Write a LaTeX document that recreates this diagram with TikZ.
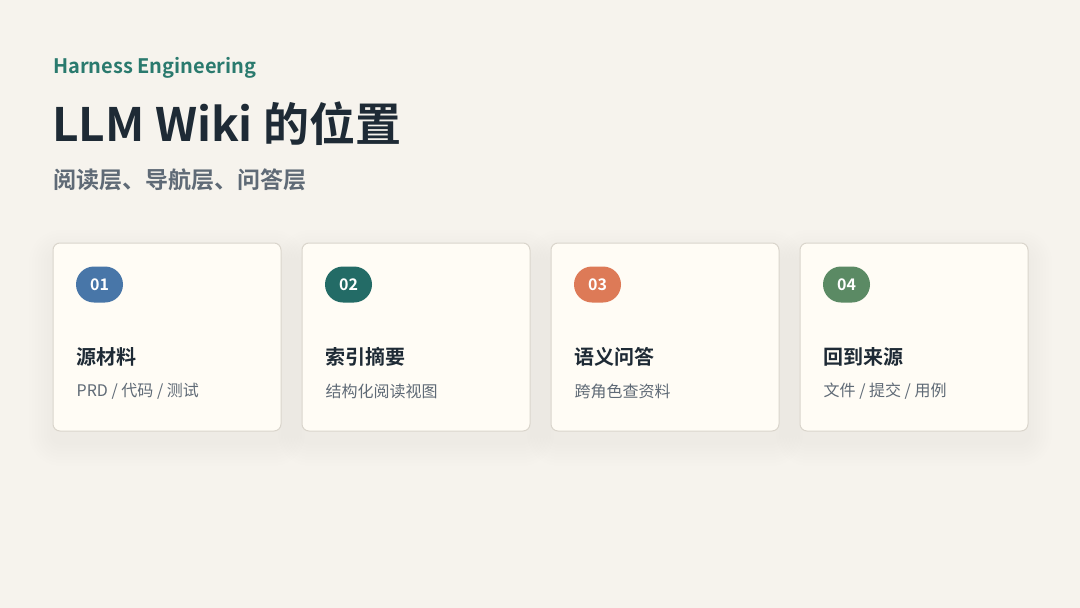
\documentclass[tikz,border=0pt]{standalone}
\usepackage{fontspec}
\usepackage{xcolor}
\setmainfont{Noto Sans CJK SC}[BoldFont={Noto Sans CJK SC Bold}]
\definecolor{BG}{HTML}{F6F3ED}
\definecolor{CardFill}{HTML}{FFFCF5}
\definecolor{CardLine}{HTML}{DAD5CC}
\definecolor{Ink}{HTML}{1E2A35}
\definecolor{Muted}{HTML}{5F6A76}
\definecolor{Teal}{HTML}{2A7A6E}
\definecolor{B1}{HTML}{4876A8}
\definecolor{B2}{HTML}{236B66}
\definecolor{B3}{HTML}{DD7A57}
\definecolor{B4}{HTML}{5B8A64}

\begin{document}
\begin{tikzpicture}[x=1pt, y=-1pt,
  card/.style={draw=CardLine, line width=1pt, fill=CardFill, rounded corners=7pt,
    minimum width=228pt, minimum height=188pt, inner sep=0pt},
  badge/.style={rounded corners=18pt, minimum width=47pt, minimum height=36pt, inner sep=0pt,
    text=white, font=\fontsize{16}{16}\selectfont\bfseries},
  cardtitle/.style={anchor=west, inner sep=0pt, text=Ink, font=\fontsize{20}{22}\selectfont\bfseries},
  cardsub/.style={anchor=west, inner sep=0pt, text=Muted, font=\fontsize{16}{18}\selectfont}]%
\fill[BG] (0,0) rectangle (1080,608);%
\useasboundingbox (0,0) rectangle (1080,608);%
% header
\node[anchor=base west, inner sep=0pt, text=Teal, font=\fontsize{20}{22}\selectfont\bfseries] (kicker) at (53,73) {Harness Engineering};%
\node[anchor=base west, inner sep=0pt, text=Ink, font=\fontsize{46}{50}\selectfont\bfseries] (title) at (52,141) {LLM Wiki 的位置};%
\node[anchor=west, inner sep=0pt, text=Muted, font=\fontsize{23}{26}\selectfont\bfseries] (subtitle) at (53,180) {阅读层、导航层、问答层};%
% soft shadows under the cards
\foreach \cx in {167,416,665,914}
  \foreach \r in {3,6,...,24}
    \fill[black, opacity=0.0045, rounded corners=8pt+\r pt]
      (\cx-114-\r, 254-\r) rectangle (\cx+114+\r, 442+\r);%
% cards
\node[card] (card1) at (167,337) {};%
\node[card] (card2) at (416,337) {};%
\node[card] (card3) at (665,337) {};%
\node[card] (card4) at (914,337) {};%
% badges
\node[badge, fill=B1] (badge1) at ([xshift=47pt, yshift=-42pt]card1.north west) {01};%
\node[badge, fill=B2] (badge2) at ([xshift=47pt, yshift=-42pt]card2.north west) {02};%
\node[badge, fill=B3] (badge3) at ([xshift=47pt, yshift=-42pt]card3.north west) {03};%
\node[badge, fill=B4] (badge4) at ([xshift=47pt, yshift=-42pt]card4.north west) {04};%
% titles
\node[cardtitle] (name1) at ([xshift=24pt, yshift=-114pt]card1.north west) {源材料};%
\node[cardtitle] (name2) at ([xshift=24pt, yshift=-114pt]card2.north west) {索引摘要};%
\node[cardtitle] (name3) at ([xshift=24pt, yshift=-114pt]card3.north west) {语义问答};%
\node[cardtitle] (name4) at ([xshift=24pt, yshift=-114pt]card4.north west) {回到来源};%
% subtitles
\node[cardsub] (desc1) at ([xshift=24pt, yshift=-149pt]card1.north west) {PRD / 代码 / 测试};%
\node[cardsub] (desc2) at ([xshift=24pt, yshift=-149pt]card2.north west) {结构化阅读视图};%
\node[cardsub] (desc3) at ([xshift=24pt, yshift=-149pt]card3.north west) {跨角色查资料};%
\node[cardsub] (desc4) at ([xshift=24pt, yshift=-149pt]card4.north west) {文件 / 提交 / 用例};%
\end{tikzpicture}
\end{document}
